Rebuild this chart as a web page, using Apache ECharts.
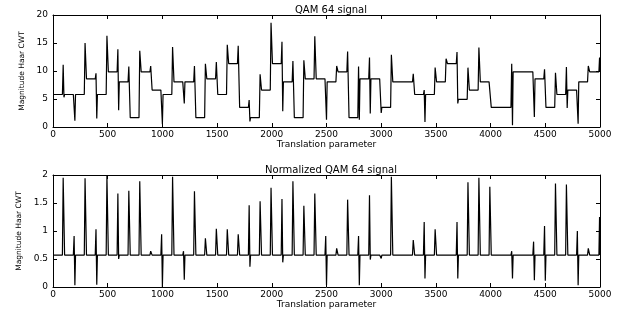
<!DOCTYPE html>
<html>
<head>
<meta charset="utf-8">
<script src="https://cdn.jsdelivr.net/npm/echarts@6/dist/echarts.min.js"></script>
<style>
  html, body { margin: 0; padding: 0; background: #fff; }
  #chart { width: 628px; height: 316px; }
</style>
</head>
<body>
<div id="chart"></div>
<script>
// segment width along the translation axis
var step = 100;
// top plot: level of each 100-wide segment (0-100, 100-200, ... 4900-5000)
var levels = [5.8, 5.8, 5.8, 8.6, 5.8, 9.85, 8.06, 1.67, 9.85, 6.6,
  5.8, 8.06, 8.06, 1.67, 8.6, 5.8, 11.3, 3.5, 1.67, 6.6,
  11.3, 8.06, 1.67, 8.6, 8.6, 8.06, 9.85, 1.67, 8.6, 8.6,
  3.5, 8.06, 8.06, 5.8, 5.8, 8.06, 11.3, 4.95, 6.6, 8.06,
  3.5, 3.5, 9.85, 9.85, 8.6, 3.5, 5.8, 6.6, 8.06, 9.85];
// top plot: spike peak / dip at boundaries 100, 200, ... 4900, 5000 (null = none)
var topHi = [11.1, 6.0, 15.0, 9.6, 16.3, 13.9, 10.8, 13.6, 10.9, 6.9,
  14.3, null, 10.9, 11.3, 11.6, 14.7, 14.5, 4.8, 9.4, 18.6,
  15.2, 11.8, 11.9, 16.2, null, 10.9, 13.5, 10.8, 12.4, null,
  12.9, null, 9.5, 6.6, 10.6, 12.2, 13.4, 10.6, 14.2, null,
  null, 11.3, null, null, 10.3, 9.7, 10.7, null, 10.9, 12.4];
var topLo = [5.3, 1.1, null, 1.5, null, 3.0, null, null, null, 0.5,
  null, 4.2, null, null, null, null, null, 1.0, null, null,
  2.8, null, null, null, 1.3, null, null, 1.3, 2.4, 2.5,
  null, null, null, 0.9, null, null, 4.2, null, null, null,
  null, 0.3, null, 1.8, null, null, 3.4, 0.6, null, null];
// bottom plot: flat normalized level and spikes at the same boundaries
var normBase = 0.57;
var normHi = [1.95, 0.91, 1.94, 1.03, 1.98, 1.67, 1.72, 1.89, 0.64, 0.94,
  1.97, 0.64, 1.71, 0.87, 1.04, 1.03, 0.94, 1.46, 1.53, 1.77,
  1.57, 1.89, 1.45, 1.67, 0.91, 0.69, 1.56, 0.91, 1.64, null,
  1.97, null, 0.84, 1.16, 1.03, null, 1.16, 1.87, 1.95, 1.79,
  null, 0.64, null, 0.81, 1.09, 1.85, 1.83, 1.0, 0.69, 1.25];
var normLo = [null, 0.03, null, 0.04, null, 0.5, null, null, null, 0.0,
  null, 0.13, null, null, null, null, null, 0.36, null, null,
  0.44, null, null, null, 0.03, null, null, 0.03, 0.49, 0.51,
  null, null, null, 0.15, null, null, 0.15, null, null, null,
  null, 0.15, null, 0.12, 0.11, null, null, 0.03, null, null];
var xTicks = [0, 500, 1000, 1500, 2000, 2500, 3000, 3500, 4000, 4500, 5000];
var topTicks = [0, 5, 10, 15, 20];
var bottomTicks = [0, 0.5, 1, 1.5, 2];

function buildPath(lv, hi, lo) {
  var pts = [[0, lv[0]]];
  for (var i = 1; i <= lv.length; i++) {
    var b = i * step;
    var p = lv[i - 1];
    if (i === lv.length) {
      pts.push([b - 10, p]);
      if (hi[i - 1] != null) pts.push([b - 4, hi[i - 1]]);
      pts.push([b, p]);
      break;
    }
    var n = lv[i];
    pts.push([b - 14, p]);
    if (hi[i - 1] != null) pts.push([b - 7, hi[i - 1]]);
    if (lo[i - 1] != null) pts.push([b, lo[i - 1]]);
    pts.push([b + 6, n]);
  }
  return pts;
}

var flat = levels.map(function () { return normBase; });
var topData = buildPath(levels, topHi, topLo);
var bottomData = buildPath(flat, normHi, normLo);

var font = 'DejaVu Sans';
var labelStyle = { fontFamily: font, fontSize: 9, color: '#000' };

function xAxes(grid) {
  return [{
    type: 'value', gridIndex: grid, min: 0, max: 5000, interval: 500,
    name: 'Translation parameter', nameLocation: 'middle', nameGap: 12,
    nameTextStyle: labelStyle,
    axisLine: { onZero: false, lineStyle: { color: '#000', width: 1 } },
    axisTick: { inside: true, length: 4, lineStyle: { color: '#000' } },
    axisLabel: Object.assign({ margin: 3, formatter: function (v) { return xTicks.indexOf(v) >= 0 ? String(v) : ''; } }, labelStyle),
    splitLine: { show: false }
  }, {
    type: 'value', gridIndex: grid, position: 'top', min: 0, max: 5000, interval: 500,
    axisLine: { onZero: false, lineStyle: { color: '#000', width: 1 } },
    axisTick: { inside: true, length: 4, lineStyle: { color: '#000' } },
    axisLabel: { show: false }, splitLine: { show: false }
  }];
}

function yAxes(grid, max, interval, ticks) {
  return [{
    type: 'value', gridIndex: grid, min: 0, max: max, interval: interval,
    name: 'Magnitude Haar CWT', nameLocation: 'middle', nameGap: 27, nameRotate: 90,
    nameTextStyle: { fontFamily: font, fontSize: 7.5, color: '#000' },
    axisLine: { onZero: false, lineStyle: { color: '#000', width: 1 } },
    axisTick: { inside: true, length: 4, lineStyle: { color: '#000' } },
    axisLabel: Object.assign({ margin: 5, formatter: function (v) { return ticks.indexOf(v) >= 0 ? String(v) : ''; } }, labelStyle),
    splitLine: { show: false }
  }, {
    type: 'value', gridIndex: grid, position: 'right', min: 0, max: max, interval: interval,
    axisLine: { onZero: false, lineStyle: { color: '#000', width: 1 } },
    axisTick: { inside: true, length: 4, lineStyle: { color: '#000' } },
    axisLabel: { show: false }, splitLine: { show: false }
  }];
}

var chart = echarts.init(document.getElementById('chart'), null, { renderer: 'canvas' });
var option = {
  animation: false,
  backgroundColor: '#fff',
  title: [
    { text: 'QAM 64 signal', left: 326, top: 0, textAlign: 'center',
      textStyle: { fontFamily: font, fontSize: 10, fontWeight: 'normal', color: '#000' } },
    { text: 'Normalized QAM 64 signal', left: 326, top: 160, textAlign: 'center',
      textStyle: { fontFamily: font, fontSize: 10, fontWeight: 'normal', color: '#000' } }
  ],
  grid: [
    { left: 53, right: 28, top: 15, height: 112 },
    { left: 53, right: 28, top: 175, height: 112 }
  ],
  xAxis: xAxes(0).concat(xAxes(1)),
  yAxis: yAxes(0, 20, 5, topTicks).concat(yAxes(1, 2, 0.5, bottomTicks)),
  series: [
    { type: 'line', xAxisIndex: 0, yAxisIndex: 0, data: topData, showSymbol: false,
      lineStyle: { color: '#000', width: 1.2 } },
    { type: 'line', xAxisIndex: 2, yAxisIndex: 2, data: bottomData, showSymbol: false,
      lineStyle: { color: '#000', width: 1.2 } }
  ]
};
chart.setOption(option);
</script>
</body>
</html>
